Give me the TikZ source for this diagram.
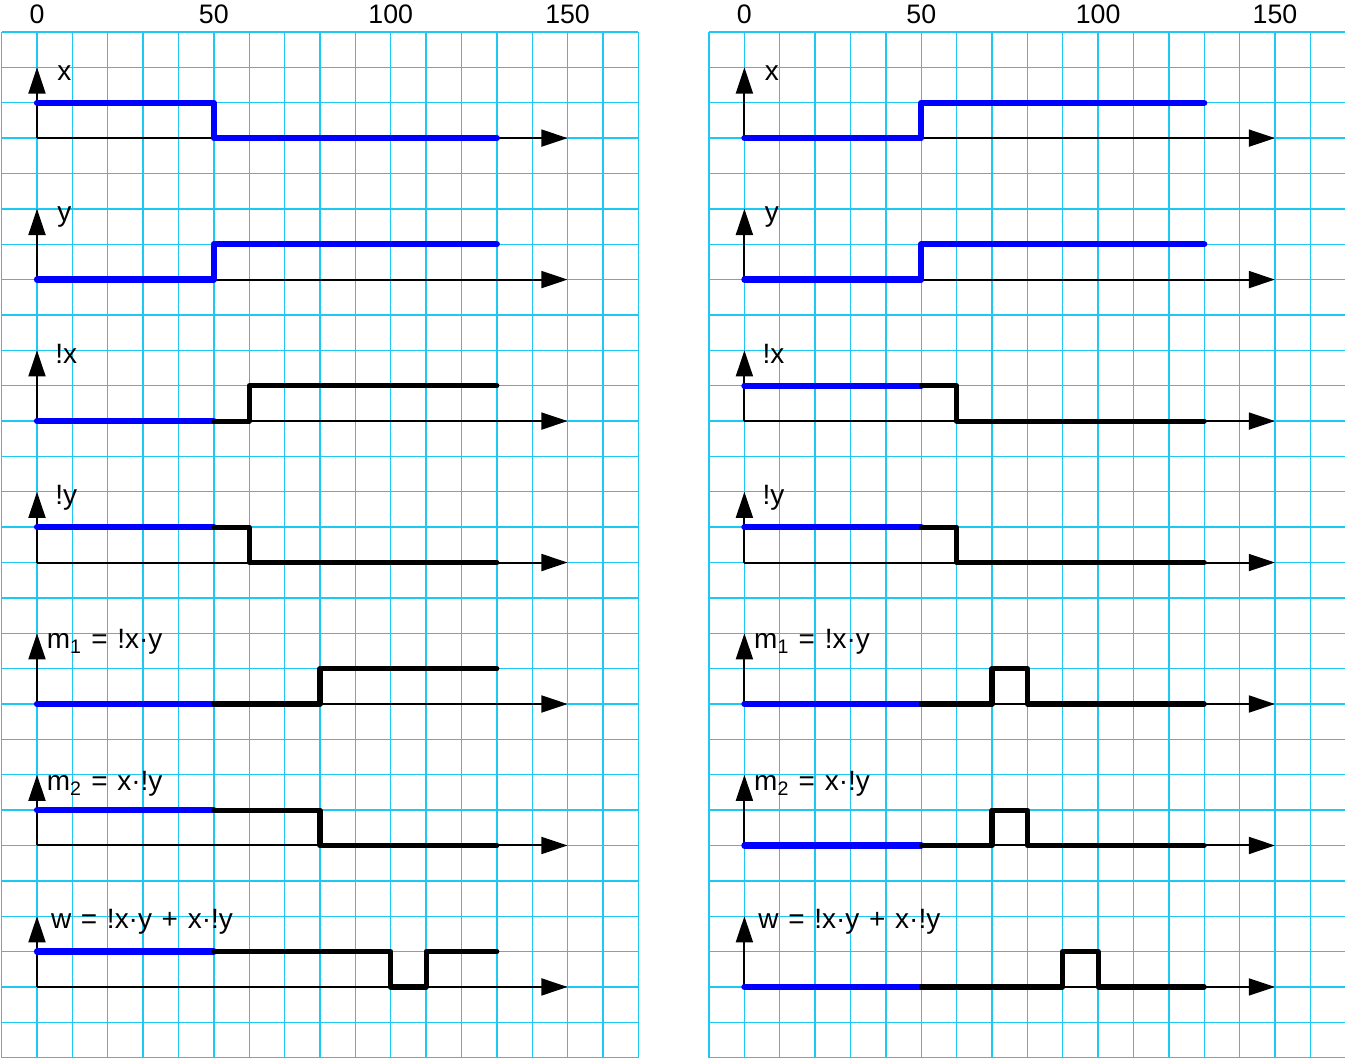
\documentclass[tikz,border=0pt]{standalone}
\usepackage{fontspec}
\setmainfont{Liberation Sans}[WordSpace=1.25]
\usetikzlibrary{arrows.meta, positioning}
\definecolor{gridcyan}{RGB}{30, 200, 245}
\definecolor{inblue}{RGB}{0, 0, 255}

\tikzset{
  gridline/.style={gridcyan, line width=1.1pt},
  axis/.style={black, line width=1.6pt, -{Triangle[length=0.74cm, width=0.48cm]}},
  inwave/.style={inblue, line width=5pt, line cap=round, line join=round},
  outwave/.style={black, line width=4.1pt, line cap=round, line join=round},
  siglabel/.style={anchor=base west, inner sep=0pt, font=\fontsize{22.5}{26}\selectfont},
  scalelabel/.style={anchor=base, inner sep=0pt, font=\fontsize{21.5}{24}\selectfont},
}

\begin{document}
\begin{tikzpicture}[x=0.1cm, y=1cm]
  \useasboundingbox (-10.46,-26.01) rectangle (369.8,3.905);

  % squared paper and time scale
  \foreach \col in {0,200} {
    \foreach \t in {-10,0,...,170}
      \draw[gridline] (\col+\t,3) -- (\col+\t,-26);
    \foreach \r in {3,2,...,-26}
      \draw[gridline] (\col-10,\r) -- (\col+170,\r);
    \foreach \t in {0,50,100,150}
      \node[scalelabel] (scale-\col-\t) at (\col+\t,3.25) {\t};
  }

  % axes and signal names
  \foreach \col in {0,200}
    \foreach \row/\lab/\dx/\dy in {0/x/5.7/1.63, 1/y/5.7/1.63, 2/!x/5.1/1.63, 3/!y/5.1/1.63,
        4/{m\textsubscript{1} = !x·y}/2.7/1.56, 5/{m\textsubscript{2} = x·!y}/2.7/1.56,
        6/{w = !x·y + x·!y}/3.9/1.65} {
      \begin{scope}[shift={(\col,-4*\row)}]
        \draw[axis] (0,0) -- (150,0);
        \draw[axis] (0,0) -- (0,2);
        \node[siglabel] (lab-\col-\row) at (\dx,\dy) {\lab};
      \end{scope}
    }

  % left column: x goes 1 -> 0, y goes 0 -> 1 at t = 50
  \draw[inwave] (0,1) -- (50,1) -- (50,0) -- (130,0);
  \draw[inwave] (0,-4) -- (50,-4) -- (50,-3) -- (130,-3);
  \draw[inwave] (0,-8) -- (50,-8);
  \draw[outwave] (50,-8) -- (60,-8) -- (60,-7) -- (130,-7);
  \draw[inwave] (0,-11) -- (50,-11);
  \draw[outwave] (50,-11) -- (60,-11) -- (60,-12) -- (130,-12);
  \draw[inwave] (0,-16) -- (50,-16);
  \draw[outwave] (50,-16) -- (80,-16) -- (80,-15) -- (130,-15);
  \draw[inwave] (0,-19) -- (50,-19);
  \draw[outwave] (50,-19) -- (80,-19) -- (80,-20) -- (130,-20);
  \draw[inwave] (0,-23) -- (50,-23);
  \draw[outwave] (50,-23) -- (100,-23) -- (100,-24) -- (110,-24) -- (110,-23) -- (130,-23);

  % right column: x and y both go 0 -> 1 at t = 50
  \begin{scope}[shift={(200,0)}]
    \draw[inwave] (0,0) -- (50,0) -- (50,1) -- (130,1);
    \draw[inwave] (0,-4) -- (50,-4) -- (50,-3) -- (130,-3);
    \draw[inwave] (0,-7) -- (50,-7);
    \draw[outwave] (50,-7) -- (60,-7) -- (60,-8) -- (130,-8);
    \draw[inwave] (0,-11) -- (50,-11);
    \draw[outwave] (50,-11) -- (60,-11) -- (60,-12) -- (130,-12);
    \draw[inwave] (0,-16) -- (50,-16);
    \draw[outwave] (50,-16) -- (70,-16) -- (70,-15) -- (80,-15) -- (80,-16) -- (130,-16);
    \draw[inwave] (0,-20) -- (50,-20);
    \draw[outwave] (50,-20) -- (70,-20) -- (70,-19) -- (80,-19) -- (80,-20) -- (130,-20);
    \draw[inwave] (0,-24) -- (50,-24);
    \draw[outwave] (50,-24) -- (90,-24) -- (90,-23) -- (100,-23) -- (100,-24) -- (130,-24);
  \end{scope}
\end{tikzpicture}
\end{document}
